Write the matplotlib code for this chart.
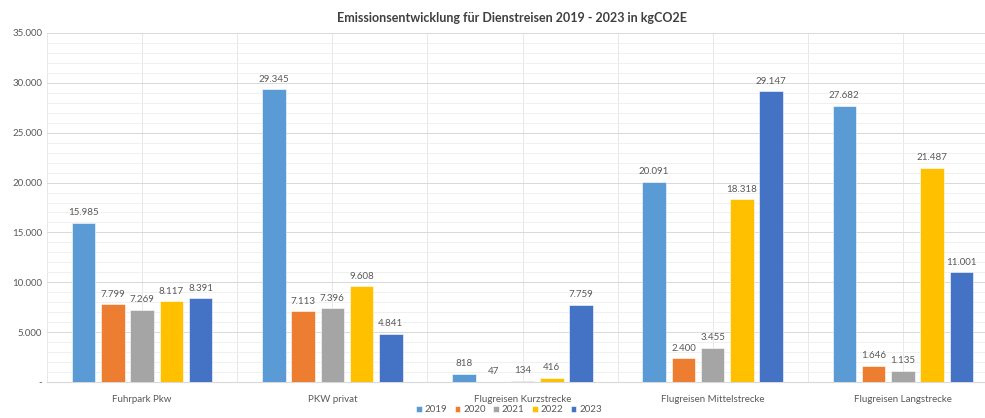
import matplotlib.pyplot as plt
import numpy as np

# data
categories = [
    "Fuhrpark Pkw",
    "PKW privat",
    "Flugreisen Kurzstrecke",
    "Flugreisen Mittelstrecke",
    "Flugreisen Langstrecke",
]
years = ["2019", "2020", "2021", "2022", "2023"]
v2019 = [15985, 29345, 818, 20091, 27682]
v2020 = [7799, 7113, 47, 2400, 1646]
v2021 = [7269, 7396, 134, 3455, 1135]
v2022 = [8117, 9608, 416, 18318, 21487]
v2023 = [8391, 4841, 7759, 29147, 11001]
y_ticks = [0, 5000, 10000, 15000, 20000, 25000, 30000, 35000]

colors = ["#5B9BD5", "#ED7D31", "#A5A5A5", "#FFC000", "#4472C4"]
series = [v2019, v2020, v2021, v2022, v2023]

plt.rcParams["font.family"] = ["Lato", "DejaVu Sans"]


def de_fmt(v):
    return "{:,}".format(int(v)).replace(",", ".")


fig = plt.figure(figsize=(9.85, 4.18), dpi=100)
ax = fig.add_axes([47 / 985, 36 / 418, 951 / 985, 349 / 418])

x = np.arange(len(categories))
pitch = 0.154
width = 0.124
for i, (vals, col, yr) in enumerate(zip(series, colors, years)):
    pos = x + (i - 2) * pitch
    bars = ax.bar(pos, vals, width, color=col, label=yr, edgecolor="white",
                  linewidth=0.4, zorder=3)
    for b, v in zip(bars, vals):
        ax.annotate(de_fmt(v), (b.get_x() + b.get_width() / 2, v),
                    xytext=(0, 4), textcoords="offset points",
                    ha="center", va="bottom", fontsize=7, color="#595959")

ax.set_xlim(-0.5, 4.5)
ax.set_ylim(0, 35000)
ax.set_yticks(y_ticks)
ax.set_yticklabels(["-"] + [de_fmt(t) for t in y_ticks[1:]])
ax.set_yticks(np.arange(0, 35001, 1000), minor=True)
ax.set_xticks(x)
ax.set_xticklabels(categories)
ax.set_xticks(np.arange(-0.5, 4.51, 1.0), minor=True)

ax.grid(axis="y", which="major", color="#D9D9D9", linewidth=0.7, zorder=0)
ax.grid(axis="y", which="minor", color="#EEEEEE", linewidth=0.6, zorder=0)
ax.grid(axis="x", which="both", color="#E8E8E8", linewidth=0.7, zorder=0)
ax.tick_params(axis="both", which="both", length=0, labelsize=7,
               colors="#595959")
ax.tick_params(axis="x", pad=9)
for s in ["top", "right", "left"]:
    ax.spines[s].set_visible(False)
ax.spines["bottom"].set_color("#D9D9D9")

fig.text(512 / 985, 1 - 18 / 418, "Emissionsentwicklung für Dienstreisen 2019 - 2023 in kgCO2E",
         ha="center", va="center", fontsize=9, fontweight="bold", color="#404040")

fig.legend(loc="center", bbox_to_anchor=(509 / 985, 8 / 418), ncol=5,
           frameon=False, fontsize=7, handlelength=0.55, handleheight=0.55,
           handletextpad=0.3, columnspacing=0.8, labelcolor="#595959")

fig.savefig("out.png", dpi=100)
